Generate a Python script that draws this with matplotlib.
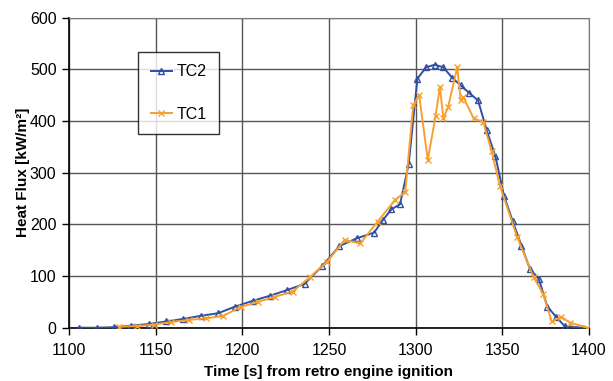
import matplotlib
matplotlib.use("Agg")
import matplotlib.pyplot as plt

# TC2 (blue, triangles)
tc2_time = [1106, 1116, 1126, 1136, 1146, 1156, 1166, 1176, 1186, 1196, 1206, 1216, 1226, 1236,
            1246, 1256, 1266, 1276, 1281, 1286, 1291, 1296, 1301, 1306, 1311, 1316, 1321, 1326,
            1331, 1336, 1341, 1346, 1351, 1356, 1361, 1366, 1371, 1376, 1381, 1386, 1396]
tc2_flux = [0, 0, 1, 4, 7, 12, 17, 23, 28, 41, 52, 62, 73, 85,
            119, 158, 173, 184, 208, 229, 239, 317, 482, 504, 509, 504, 484, 469,
            454, 440, 382, 332, 255, 206, 159, 113, 95, 41, 21, 3, 0]

# TC1 (orange, crosses)
tc1_time = [1129, 1139, 1149, 1159, 1169, 1179, 1189, 1199, 1209, 1219, 1229, 1239, 1249, 1259,
            1268, 1278, 1288, 1294, 1298.6, 1302, 1307, 1311.5, 1314, 1316, 1318.7, 1324, 1326,
            1327.5, 1333.5, 1339, 1343.8, 1348.6, 1358.5, 1368, 1373.5, 1378.5, 1384, 1389, 1399]
tc1_flux = [2, 3, 6, 11, 15, 18, 23, 40, 50, 60, 70, 98, 128, 170,
            163, 205, 247, 263, 431, 450, 325, 410, 466, 405, 427, 504, 440,
            446, 405, 398, 342, 275, 176, 98, 66, 12, 21, 10, 0]

x_ticks = [1100, 1150, 1200, 1250, 1300, 1350, 1400]
y_ticks = [0, 100, 200, 300, 400, 500, 600]

plt.rcParams['font.family'] = ['Liberation Sans', 'DejaVu Sans']

fig = plt.figure(figsize=(6.13, 3.81), dpi=100)
ax = fig.add_axes([0.1126, 0.1399, 0.9608 - 0.1126, 0.9535 - 0.1399])

blue = '#2F4FA2'
orange = '#F7A030'

ax.plot(tc2_time, tc2_flux, color=blue, lw=1.4, marker='^', ms=4.5,
        markerfacecolor='none', markeredgecolor=blue, markeredgewidth=1.0, label='TC2', zorder=3)
ax.plot(tc1_time, tc1_flux, color=orange, lw=1.4, marker='x', ms=5,
        markeredgewidth=1.0, label='TC1', zorder=4)

ax.set_xlim(1100, 1400)
ax.set_ylim(0, 600)
ax.set_xticks(x_ticks)
ax.set_yticks(y_ticks)
ax.tick_params(axis='both', labelsize=11.5, direction='out', length=5, width=1, color='black')
ax.tick_params(axis='x', pad=6)
ax.tick_params(axis='y', pad=4)
ax.grid(True, color='#555555', lw=1)
ax.set_axisbelow(True)
for s in ['top', 'right']:
    ax.spines[s].set_color('#777777')
for s in ['left', 'bottom']:
    ax.spines[s].set_color('black')
    ax.spines[s].set_linewidth(1.2)

ax.set_xlabel('Time [s] from retro engine ignition', fontsize=11, fontweight='bold', labelpad=5)
ax.set_ylabel('Heat Flux [kW/m²]', fontsize=11, fontweight='bold', labelpad=0)

leg = ax.legend(loc='upper left', bbox_to_anchor=((138 - 69) / 520, (327.7 - 51.7) / 310),
                frameon=True, fancybox=False, edgecolor='black', fontsize=11.5,
                labelspacing=1.7, handlelength=1.3, borderpad=0.8, handletextpad=0.3,
                borderaxespad=0)
leg.get_frame().set_linewidth(1.0)

fig.savefig('out.png', dpi=100)
